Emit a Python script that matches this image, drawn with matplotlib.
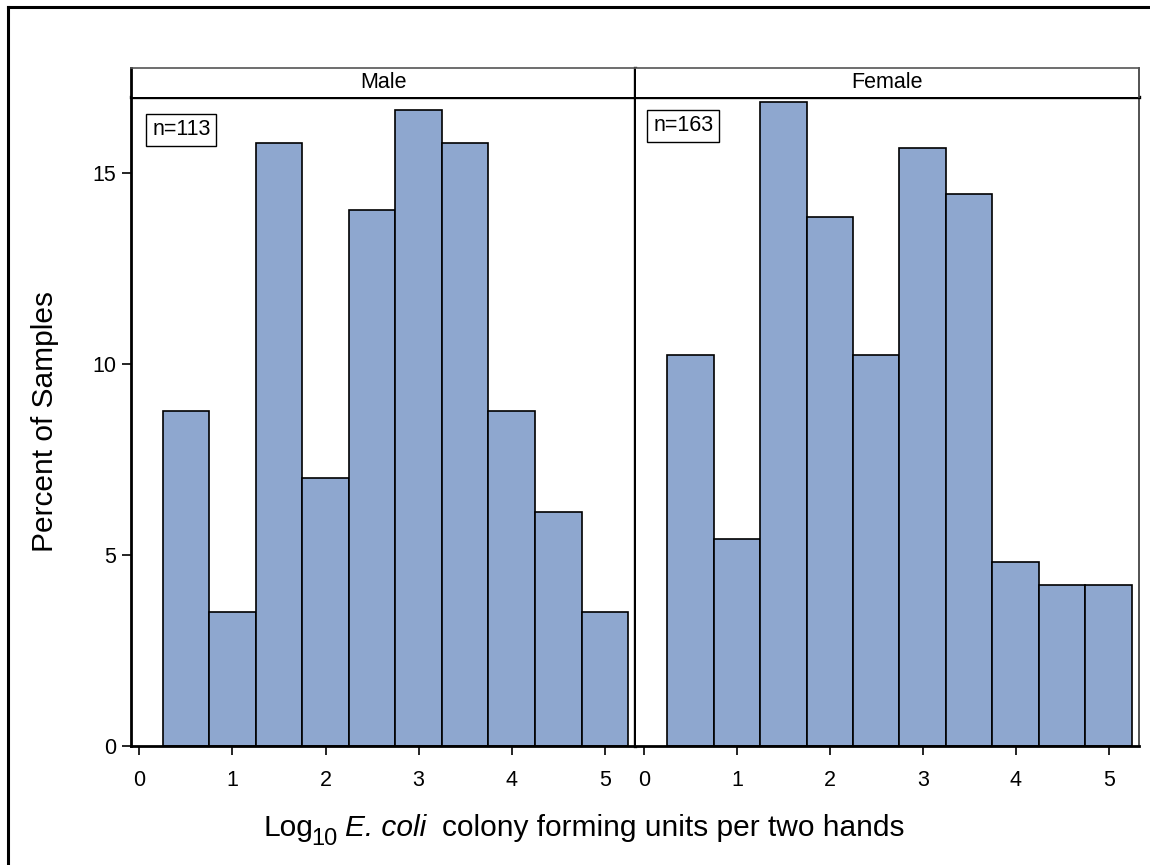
import numpy as np
import matplotlib.pyplot as plt
from matplotlib.lines import Line2D

plt.rcParams['font.family'] = ['Liberation Sans', 'DejaVu Sans']

# histogram bins (log10 CFU), width 0.5
bin_mid = [0.5, 1.0, 1.5, 2.0, 2.5, 3.0, 3.5, 4.0, 4.5, 5.0]
bin_width = 0.5

# percent of samples per bin
male_pct = [8.77, 3.51, 15.79, 7.02, 14.04, 16.67, 15.79, 8.77, 6.14, 3.51]
female_pct = [10.24, 5.42, 16.87, 13.86, 10.24, 15.66, 14.46, 4.82, 4.22, 4.22]

panels = ['Male', 'Female']
n_labels = ['n=113', 'n=163']
pct = [male_pct, female_pct]

x_ticks = [0, 1, 2, 3, 4, 5]
y_ticks = [0, 5, 10, 15]

W, H = 1150, 865
fig = plt.figure(figsize=(W / 100, H / 100), dpi=100)

bar_color = '#8EA7CF'
px = lambda x: x / W
py = lambda y: 1 - y / H

plot_top, plot_bot, head_top = 97.3, 746, 68.3
edges = [131, 635.5, 1139.3]
n_pos = [(0.042, 0.9496), (0.035, 0.956)]

for i, name in enumerate(panels):
    x0, x1 = edges[i], edges[i + 1]
    ax = fig.add_axes([px(x0), py(plot_bot), px(x1 - x0), (plot_bot - plot_top) / H])
    ax.bar(bin_mid, pct[i], width=bin_width, color=bar_color,
           edgecolor='black', linewidth=1.2, zorder=2)
    ax.set_xlim(-0.09, 5.33)
    ax.set_ylim(0, 16.99)
    ax.set_xticks(x_ticks)
    ax.set_yticks(y_ticks)
    ax.tick_params(axis='both', direction='out', length=6.5, width=1.2,
                   labelsize=15.5, color='black')
    ax.tick_params(axis='x', pad=10.5)
    ax.tick_params(axis='y', pad=4)
    if i == 1:
        ax.tick_params(axis='y', left=False, labelleft=False)
    for side in ['left', 'bottom']:
        ax.spines[side].set_linewidth(2.0)
    ax.spines['top'].set_linewidth(2.4)
    if i == 0:
        ax.spines['right'].set_linewidth(2.4)
    else:
        ax.spines['left'].set_visible(False)
        ax.spines['right'].set_linewidth(1.3)
        ax.spines['right'].set_color('#444444')

    # sample size box
    ax.text(n_pos[i][0], n_pos[i][1], n_labels[i], transform=ax.transAxes,
            fontsize=15.5, ha='left', va='center',
            bbox=dict(boxstyle='square,pad=0.27', facecolor='white',
                      edgecolor='black', linewidth=1.0))

    # panel header strip
    hx = fig.add_axes([px(x0), py(plot_top), px(x1 - x0), (plot_top - head_top) / H])
    hx.set_xticks([])
    hx.set_yticks([])
    hx.spines['top'].set_color('#555555')
    hx.spines['top'].set_linewidth(1.2)
    hx.spines['bottom'].set_visible(False)
    if i == 0:
        hx.spines['left'].set_linewidth(2.0)
        hx.spines['right'].set_linewidth(2.4)
    else:
        hx.spines['left'].set_visible(False)
        hx.spines['right'].set_linewidth(1.3)
        hx.spines['right'].set_color('#444444')
    hx.text(0.5, 0.5, name, ha='center', va='center', fontsize=15.5,
            transform=hx.transAxes)

fig.text(px(45), py(421.5), 'Percent of Samples', rotation=90,
         ha='center', va='center', fontsize=21.5)

# x-axis title built from pieces: Log, subscript 10, italic E. coli, rest
pieces = [('Log', 21.5, 'normal', 0, 0),
          ('10', 17, 'normal', -9, -2),
          ('E. coli', 21.5, 'italic', 0, 7),
          ('colony forming units per two hands', 21.5, 'normal', 0, 16)]
renderer = fig.canvas.get_renderer()
widths = []
for s, fs, style, dy, gap in pieces:
    t = fig.text(0, 0, s, fontsize=fs, style=style)
    widths.append(t.get_window_extent(renderer).width)
    t.remove()
total = sum(widths) + sum(p[4] for p in pieces)
xcur = 584 - total / 2
base_y = 836
for (s, fs, style, dy, gap), w in zip(pieces, widths):
    xcur += gap
    fig.text(px(xcur), py(base_y - dy), s, fontsize=fs, style=style,
             ha='left', va='baseline')
    xcur += w

# outer frame (left and top edges)
fig.add_artist(Line2D([px(7.5), px(7.5)], [0, py(6.5)], color='black', lw=2.2))
fig.add_artist(Line2D([px(7.5), 1], [py(6.5), py(6.5)], color='black', lw=2.2))

fig.savefig('out.png', dpi=100, facecolor='white')
